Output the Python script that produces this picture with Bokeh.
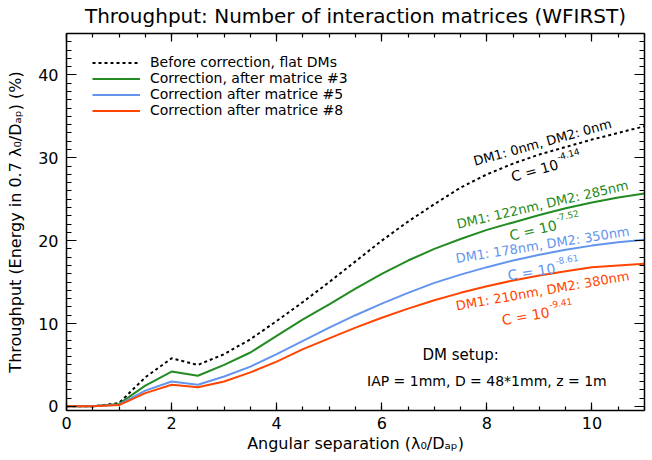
import math
from bokeh.plotting import figure
from bokeh.models import LinearAxis, Legend, LegendItem, Range1d, CustomLabelingPolicy
from bokeh.core.properties import value
from bokeh.embed import file_html
from bokeh.resources import INLINE

# ---- data ----
sep = [0, 0.5, 1, 1.5, 2, 2.5, 3, 3.5, 4, 4.5, 5, 5.5, 6, 6.5, 7, 7.5, 8, 8.5, 9, 9.5, 10, 10.5, 11]
before_flat = [0, 0, 0.4, 3.5, 5.8, 5.0, 6.3, 8.1, 10.3, 12.6, 15.0, 17.5, 20.0, 22.3, 24.4, 26.4, 28.0, 29.3, 30.4, 31.3, 32.2, 33.0, 33.8]
after_m3 = [0, 0, 0.3, 2.5, 4.2, 3.7, 5.0, 6.5, 8.5, 10.5, 12.3, 14.2, 16.0, 17.6, 19.0, 20.2, 21.3, 22.2, 23.1, 23.9, 24.6, 25.2, 25.7]
after_m5 = [0, 0, 0.2, 1.9, 3.0, 2.6, 3.6, 4.8, 6.3, 7.9, 9.5, 11.0, 12.4, 13.7, 14.9, 15.9, 16.8, 17.6, 18.3, 18.9, 19.4, 19.8, 20.1]
after_m8 = [0, 0, 0.15, 1.6, 2.6, 2.3, 3.0, 4.1, 5.4, 6.9, 8.2, 9.5, 10.7, 11.8, 12.8, 13.7, 14.5, 15.2, 15.8, 16.3, 16.8, 17.0, 17.2]

legend_labels = ["Before correction, flat DMs", "Correction, after matrice #3",
                 "Correction after matrice #5", "Correction after matrice #8"]
ann_line1 = ["DM1: 0nm, DM2: 0nm", "DM1: 122nm, DM2: 285nm",
             "DM1: 178nm, DM2: 350nm", "DM1: 210nm, DM2: 380nm"]
ann_expo = ["-4.14", "-7.52", "-8.61", "-9.41"]
colors = ["black", "#228B22", "#6495ED", "#FF4500"]

FONT = "DejaVu Sans"

p = figure(width=648, height=458, output_backend="svg", toolbar_location=None,
           x_range=Range1d(0, 11), y_range=Range1d(-0.5, 45),
           min_border_left=66, min_border_right=4, min_border_top=33, min_border_bottom=48)
p.title.text = "Throughput: Number of interaction matrices (WFIRST)"
p.title.align = "center"
p.title.text_font = FONT
p.title.text_font_size = "20px"
p.title.text_font_style = "normal"
p.title.text_color = "black"
p.title.standoff = 3
p.xgrid.visible = False
p.ygrid.visible = False
p.outline_line_color = None

no_labels = CustomLabelingPolicy(code="return new indices.constructor(indices.size)")

def style_axis(ax, major, minor, labels=True):
    ax.major_tick_in = major
    ax.major_tick_out = 0
    ax.minor_tick_in = minor
    ax.minor_tick_out = 0
    ax.axis_line_width = 1.5
    ax.major_tick_line_width = 1.2
    ax.minor_tick_line_width = 1.2
    ax.axis_line_color = "black"
    ax.major_tick_line_color = "black"
    ax.minor_tick_line_color = "black"
    if labels:
        ax.major_label_text_font = FONT
        ax.major_label_text_font_size = "16px"
        ax.major_label_text_color = "black"
        ax.axis_label_text_font = FONT
        ax.axis_label_text_font_size = "16px"
        ax.axis_label_text_font_style = "normal"
        ax.axis_label_text_color = "black"
    else:
        ax.major_label_policy = no_labels
        ax.major_label_text_font_size = "1px"
        ax.major_label_standoff = 0

p.xaxis.axis_label = "Angular separation (λ₀/Dₐₚ)"
p.yaxis.axis_label = "Throughput (Energy in 0.7 λ₀/Dₐₚ) (%)"
p.xaxis.ticker.desired_num_ticks = 6
p.xaxis.ticker.num_minor_ticks = 4
p.yaxis.ticker.num_minor_ticks = 10
style_axis(p.xaxis[0], 8, 4)
style_axis(p.yaxis[0], 10, 5)
p.xaxis.major_label_standoff = 6
p.yaxis.major_label_standoff = 8
p.xaxis.axis_label_standoff = 2
p.yaxis.axis_label_standoff = 10

top_ax = LinearAxis()
top_ax.ticker.num_minor_ticks = 4
top_ax.ticker.desired_num_ticks = 6
style_axis(top_ax, 8, 4, labels=False)
p.add_layout(top_ax, "above")
right_ax = LinearAxis()
right_ax.ticker.num_minor_ticks = 10
style_axis(right_ax, 10, 5, labels=False)
p.add_layout(right_ax, "right")

series = [before_flat, after_m3, after_m5, after_m8]
renderers = []
for i, ys in enumerate(series):
    if i == 0:
        r = p.line(sep, ys, line_color=colors[i], line_width=2, line_dash="3 3")
    else:
        r = p.line(sep, ys, line_color=colors[i], line_width=2)
    renderers.append(r)

legend = Legend(items=[LegendItem(label=legend_labels[i], renderers=[renderers[i]]) for i in range(4)],
                location=(20, 286), padding=6, spacing=-1, glyph_height=15, label_height=15,
                glyph_width=48, label_standoff=10, border_line_alpha=0, background_fill_alpha=0,
                label_text_font=FONT, label_text_font_size="14px", label_text_color="black")
p.add_layout(legend)

# annotations: centre of first line (data coords), angle (deg), offsets of the "C = 10" line
ann_x = [9.06, 9.06, 9.06, 9.06]
ann_y = [31.85, 24.35, 19.5, 13.95]
ann_deg = [15.5, 13, 9, 10]
ann_a = [9, 9, 9, 3]
ann_h = [-25, -23, -25, -22]

def offs(a, h, th):
    return a * math.cos(th) - h * math.sin(th), -a * math.sin(th) - h * math.cos(th)

for i in range(4):
    th = math.radians(ann_deg[i])
    p.text(x=[ann_x[i]], y=[ann_y[i]], text=[ann_line1[i]], angle=th,
           text_align="center", text_baseline="middle", text_color=colors[i],
           text_font=value(FONT), text_font_size="13px")
    xo, yo = offs(ann_a[i], ann_h[i], th)
    p.text(x=[ann_x[i]], y=[ann_y[i]], text=["C = 10"], angle=th, x_offset=xo, y_offset=yo,
           text_align="right", text_baseline="middle", text_color=colors[i],
           text_font=value(FONT), text_font_size="14px")
    xo, yo = offs(ann_a[i] + 1, ann_h[i] + 7, th)
    p.text(x=[ann_x[i]], y=[ann_y[i]], text=[ann_expo[i]], angle=th, x_offset=xo, y_offset=yo,
           text_align="left", text_baseline="middle", text_color=colors[i],
           text_font=value(FONT), text_font_size="9px")

p.text(x=[7.5], y=[6.14], text=["DM setup:"], text_align="center", text_baseline="middle",
       text_color="black", text_font=value(FONT), text_font_size="15px")
p.text(x=[8.0], y=[3.12], text=["IAP = 1mm, D = 48*1mm, z = 1m"], text_align="center",
       text_baseline="middle", text_color="black", text_font=value(FONT), text_font_size="14px")

open("out.html", "w").write(file_html(p, INLINE))
